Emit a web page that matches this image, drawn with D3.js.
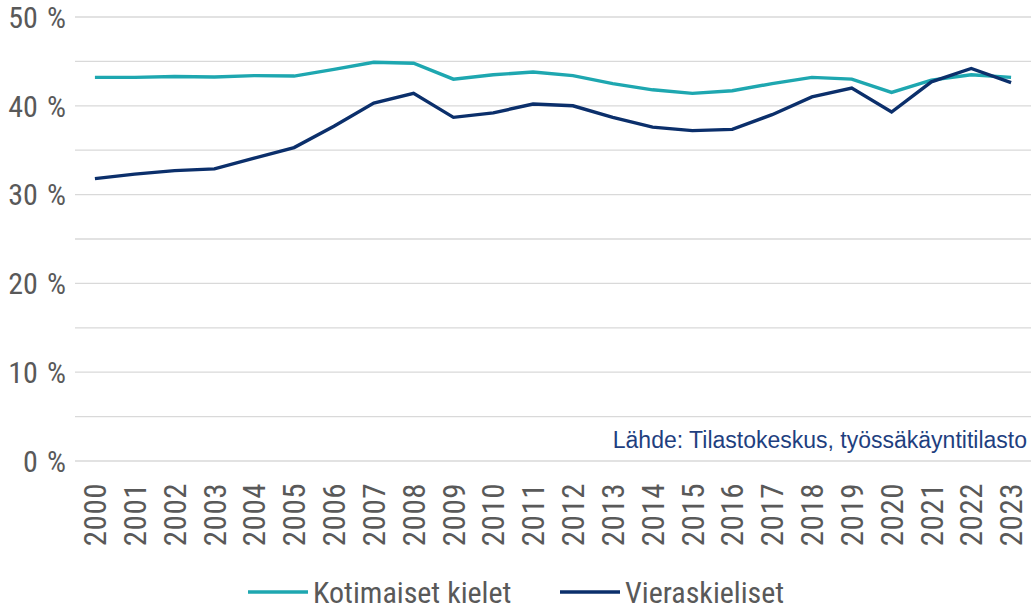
<!DOCTYPE html>
<html>
<head>
<meta charset="utf-8">
<script src="https://cdn.jsdelivr.net/npm/d3@7"></script>
<style>
  html, body { margin: 0; padding: 0; background: #fff; }
  svg text { font-family: "Roboto Condensed", Roboto, "Liberation Sans", sans-serif; }
</style>
</head>
<body>
<svg id="chart" width="1035" height="609"></svg>
<script>
const years = ['2000','2001','2002','2003','2004','2005','2006','2007','2008','2009','2010','2011',
  '2012','2013','2014','2015','2016','2017','2018','2019','2020','2021','2022','2023'];
const kotimaiset = [43.2, 43.2, 43.3, 43.25, 43.4, 43.35, 44.1, 44.9, 44.8, 43.0, 43.5, 43.8,
  43.4, 42.5, 41.8, 41.4, 41.7, 42.5, 43.2, 43.0, 41.5, 42.9, 43.5, 43.2];
const vieraskieliset = [31.8, 32.3, 32.7, 32.9, 34.1, 35.3, 37.7, 40.3, 41.4, 38.7, 39.2, 40.2,
  40.0, 38.7, 37.6, 37.2, 37.35, 39.0, 41.0, 42.0, 39.3, 42.7, 44.2, 42.6];
const yTicks = [0, 10, 20, 30, 40, 50];
const gridTicks = [0, 5, 10, 15, 20, 25, 30, 35, 40, 45, 50];
const seriesNames = ['Kotimaiset kielet', 'Vieraskieliset'];
const seriesColors = ['#1ea7b0', '#0b2f6b'];
const sourceText = 'Lähde: Tilastokeskus, työssäkäyntitilasto';

const svg = d3.select('#chart');
const margin = { left: 75, right: 4, top: 17, bottom: 148 };
const width = 1035, height = 609;

const x = d3.scaleBand()
  .domain(years)
  .range([margin.left, width - margin.right]);

const y = d3.scaleLinear()
  .domain([0, 50])
  .range([height - margin.bottom, margin.top]);

// gridlines
svg.append('g')
  .selectAll('line')
  .data(gridTicks)
  .join('line')
  .attr('x1', margin.left)
  .attr('x2', width - margin.right)
  .attr('y1', d => y(d))
  .attr('y2', d => y(d))
  .attr('stroke', '#d9d9d9')
  .attr('stroke-width', 1.3);

// y labels
svg.append('g')
  .selectAll('text')
  .data(yTicks)
  .join('text')
  .attr('x', 66)
  .attr('y', d => y(d))
  .attr('dy', '0.36em')
  .attr('text-anchor', 'end')
  .attr('fill', '#595959')
  .style('font-size', '30px')
  .text(d => d + '\u2004%');

// x labels
svg.append('g')
  .selectAll('text')
  .data(years)
  .join('text')
  .attr('transform', d => `translate(${x(d) + x.bandwidth() / 2},${y(0) + 22}) rotate(-90)`)
  .attr('dy', '0.36em')
  .attr('text-anchor', 'end')
  .attr('fill', '#595959')
  .style('font-size', '31px')
  .style('letter-spacing', '0.5px')
  .text(d => d);

// lines
const line = d3.line()
  .x((d, i) => x(years[i]) + x.bandwidth() / 2)
  .y(d => y(d));

[kotimaiset, vieraskieliset].forEach((values, i) => {
  svg.append('path')
    .datum(values)
    .attr('d', line)
    .attr('fill', 'none')
    .attr('stroke', seriesColors[i])
    .attr('stroke-width', 3.4)
    .attr('stroke-linejoin', 'miter');
});

// source
svg.append('text')
  .attr('x', 1027)
  .attr('y', 448)
  .attr('text-anchor', 'end')
  .attr('fill', '#1f3f7f')
  .style('font-family', '"Liberation Sans", Arial, sans-serif')
  .style('font-size', '23px')
  .text(sourceText);

// legend
const legendX = [248, 560];
const legend = svg.append('g');
seriesNames.forEach((name, i) => {
  legend.append('line')
    .attr('x1', legendX[i])
    .attr('x2', legendX[i] + 60)
    .attr('y1', 592)
    .attr('y2', 592)
    .attr('stroke', seriesColors[i])
    .attr('stroke-width', 3.4);
  legend.append('text')
    .attr('x', legendX[i] + 65)
    .attr('y', 603)
    .attr('fill', '#595959')
    .style('font-size', '30px')
    .text(name);
});
</script>
</body>
</html>
